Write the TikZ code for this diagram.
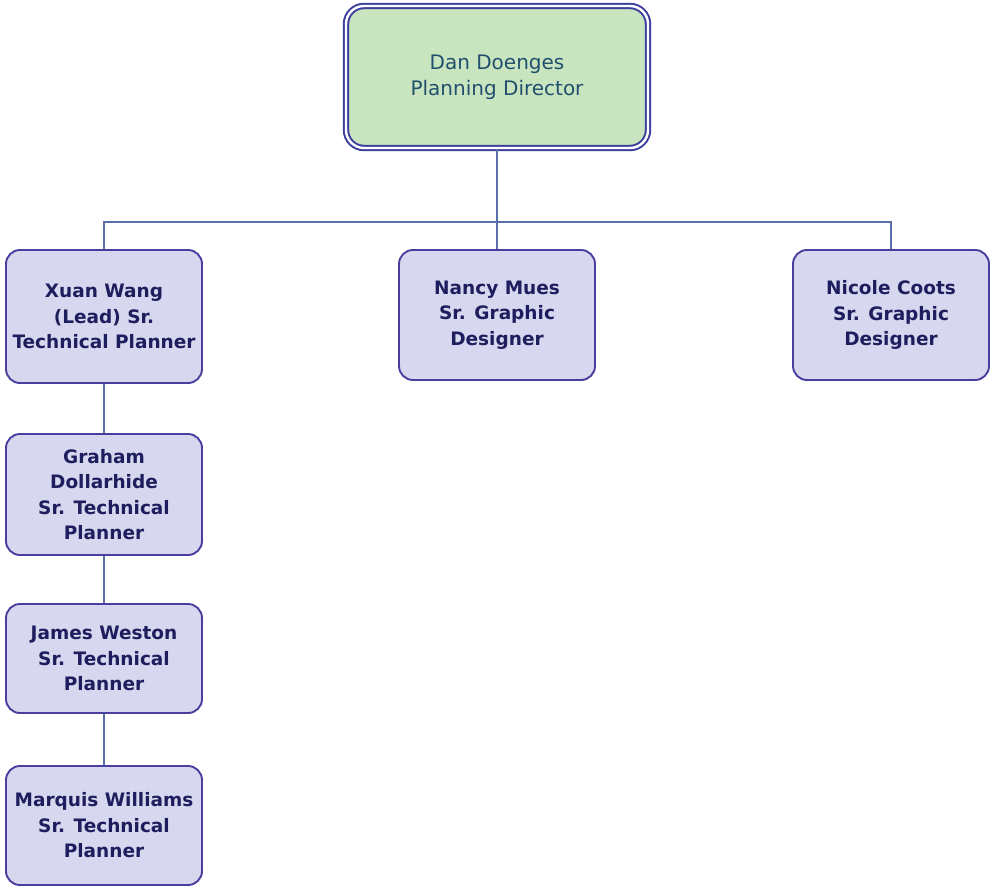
\documentclass[tikz,border=0pt]{standalone}
\usepackage{fontspec}
\setmainfont{DejaVu Sans}
\definecolor{boxfill}{HTML}{D7D7EF}
\definecolor{boxline}{HTML}{4A3F9E}
\definecolor{boxtext}{HTML}{1E1E5E}
\definecolor{headfill}{HTML}{C9E5BF}
\definecolor{headline}{HTML}{3D3F9E}
\definecolor{headtext}{HTML}{21506E}
\definecolor{wire}{HTML}{5A70A8}
\begin{document}
\begin{tikzpicture}[x=1pt,y=-1pt,
  staff/.style={draw=boxline, line width=1.9pt, fill=boxfill, rounded corners=14pt,
    minimum width=196pt, align=center, text=boxtext,
    font=\fontsize{18.5}{25.5}\selectfont\bfseries, inner sep=1pt},
  head/.style={draw=headline, line width=2pt, double=white, double distance=2.4pt,
    fill=headfill, rounded corners=18pt, minimum width=302pt, minimum height=142pt,
    align=center, text=headtext, font=\fontsize{20}{26}\selectfont},
  wireline/.style={draw=wire, line width=1.5pt}]
\useasboundingbox (0,0) rectangle (990,888);
\fill[white] (0,0) rectangle (990,888);

% director
\node[head] (dir) at (497,77) {Dan Doenges\\Planning Director};

% staff boxes
\node[staff, minimum height=133pt] (xuan) at (104,316.5) {Xuan Wang\\(Lead) Sr.\\Technical Planner};
\node[staff, minimum height=130pt] (nancy) at (497,315) {Nancy Mues\\Sr. Graphic\\Designer};
\node[staff, minimum height=130pt] (nicole) at (891,315) {Nicole Coots\\Sr. Graphic\\Designer};
\node[staff, minimum height=121pt] (graham) at (104,494.5) {Graham\\Dollarhide\\Sr. Technical\\Planner};
\node[staff, minimum height=109pt] (james) at (104,658.5) {James Weston\\Sr. Technical\\Planner};
\node[staff, minimum height=119pt] (marquis) at (104,825.5) {Marquis Williams\\Sr. Technical\\Planner};

% connectors
\coordinate (bus) at (497,222);
\draw[wireline] (dir.south) -- (nancy.north);
\draw[wireline] (xuan.north) |- (bus) -| (nicole.north);
\draw[wireline] (xuan.south) -- (graham.north);
\draw[wireline] (graham.south) -- (james.north);
\draw[wireline] (james.south) -- (marquis.north);
\end{tikzpicture}
\end{document}
